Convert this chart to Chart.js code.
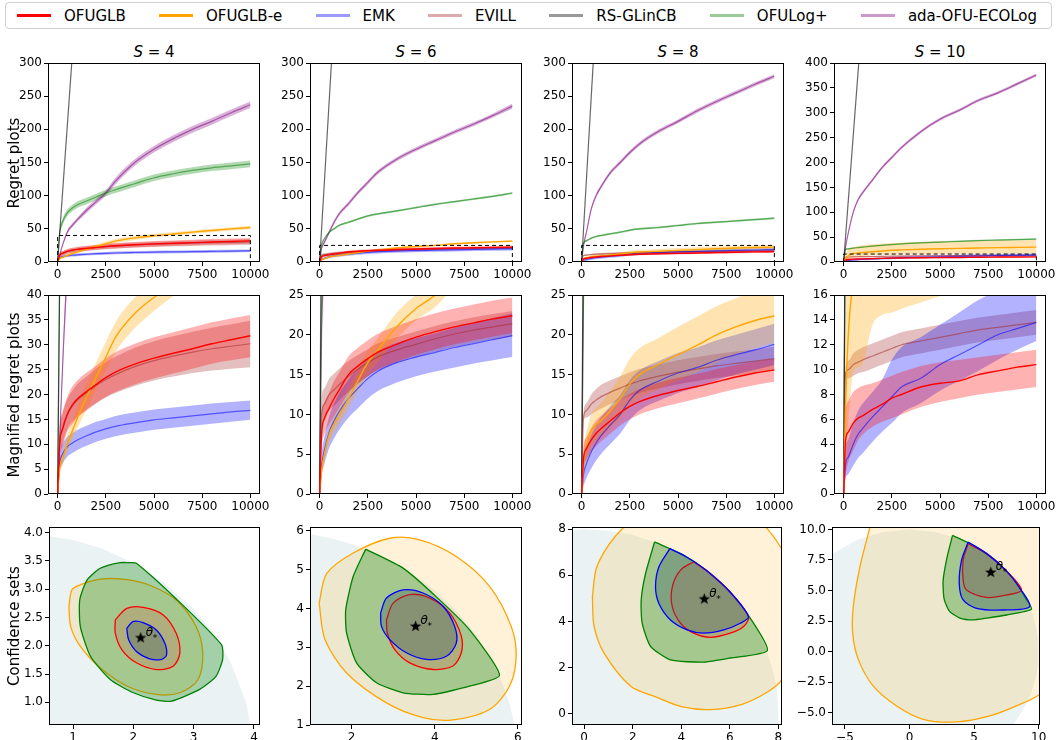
<!DOCTYPE html>
<html>
<head>
<meta charset="utf-8">
<script src="https://cdn.jsdelivr.net/npm/chart.js@4.4.1/dist/chart.umd.min.js"></script>
<style>
  body { margin: 0; width: 1058px; height: 740px; background: #fff; position: relative; overflow: hidden; font-family: "DejaVu Sans", sans-serif; color: #000; }
  canvas { position: absolute; }
  #legend { position: absolute; left: 5px; top: 2px; width: 1047px; height: 27px; box-sizing: border-box; border: 1px solid #d0d0d0; border-radius: 4px;
            display: flex; align-items: center; justify-content: space-between; padding: 0 14px 0 11px; font-size: 15px; }
  .item { display: flex; align-items: center; gap: 13px; }
  .sw { width: 34px; height: 2.5px; display: inline-block; }
  .ttl { position: absolute; font-size: 15px; width: 212px; text-align: center; }
  .ylab { position: absolute; font-size: 15px; white-space: nowrap; transform: translate(-50%, -50%) rotate(-90deg); }
</style>
</head>
<body>
<div id="legend"></div>
<script>
// ---------- regret data (x = round, y = cumulative regret) ----------
const steps = [0, 100, 250, 500, 750, 1000, 1500, 2000, 2500, 3000, 4000, 5000, 6000, 7000, 8000, 9000, 10000];
const rsSteps = [0, 10000];

// S = 4
const s4_ofuglb     = [0, 10, 13, 16, 17.8, 19, 20.6, 22, 23.4, 24.5, 26.1, 27.3, 28.3, 29.2, 30.2, 31.0, 31.8];
const s4_ofuglb_lo  = [0, 7, 9.5, 12.5, 14, 15.3, 16.8, 18.2, 19.5, 20.5, 22, 23.2, 24.2, 25.2, 26.2, 26.9, 27.5];
const s4_ofuglb_hi  = [0, 13, 16.5, 19.5, 21.5, 22.7, 24.4, 25.8, 27.3, 28.5, 30.2, 31.5, 32.5, 33.5, 34.5, 35.3, 36.0];
const s4_ofuglbe    = [0, 5, 7, 10, 12.5, 15, 19.5, 23.5, 27.5, 31.5, 36.3, 39.5, 42.3, 45, 47.5, 50, 52];
const s4_ofuglbe_lo = [0, 4, 5.8, 8.5, 10.8, 13, 17, 21, 24.8, 28.5, 33.3, 36.8, 39.8, 42.5, 45, 47.3, 49.5];
const s4_ofuglbe_hi = [0, 6, 8.3, 11.8, 14.5, 17.3, 22.2, 26.5, 30.5, 34.5, 39.5, 42.5, 45, 47.5, 50, 52.5, 54.5];
const s4_emk        = [0, 6, 8, 9.5, 10.2, 10.8, 11.7, 12.5, 13.1, 13.6, 14.3, 14.9, 15.3, 15.7, 16.1, 16.5, 16.8];
const s4_emk_lo     = [0, 4.2, 6, 7.5, 8.2, 8.8, 9.7, 10.5, 11.1, 11.6, 12.3, 12.9, 13.3, 13.7, 14.1, 14.5, 14.9];
const s4_emk_hi     = [0, 7.8, 10, 11.5, 12.2, 12.8, 13.7, 14.5, 15.1, 15.7, 16.4, 17.0, 17.4, 17.8, 18.2, 18.5, 18.8];
const s4_evill      = [0, 10, 13, 16, 17.6, 18.8, 20.3, 21.8, 23, 24, 25.6, 26.8, 27.7, 28.5, 29.2, 29.7, 30.2];
const s4_evill_lo   = [0, 7.5, 10, 13, 14.5, 15.5, 17, 18.3, 19.4, 20.3, 21.7, 22.8, 23.6, 24.3, 24.8, 25.2, 25.5];
const s4_evill_hi   = [0, 12.5, 16, 19, 20.7, 22, 23.6, 25.2, 26.5, 27.6, 29.4, 30.7, 31.7, 32.6, 33.4, 34.1, 34.8];
const s4_rs         = [0, 4100];
const s4_ofulog     = [0, 42, 60, 74, 81, 86, 92, 98, 104, 109, 118, 127, 133, 138, 142, 145, 148];
const s4_ofulog_lo  = [0, 38, 55, 69, 76, 81, 87, 93, 99, 104, 113, 122, 128, 133, 137, 140, 143];
const s4_ofulog_hi  = [0, 46, 65, 79, 86, 91, 97, 103, 109, 114, 123, 132, 138, 143, 147, 150, 153];
const s4_ada        = [0, 10, 25, 45, 55, 63, 78, 91, 104, 122, 150, 170, 186, 200, 212, 225, 237];
const s4_ada_lo     = [0, 9, 23, 42, 52, 60, 74, 87, 100, 117, 145, 165, 181, 195, 207, 220, 232];
const s4_ada_hi     = [0, 11, 27, 48, 58, 66, 82, 95, 108, 127, 155, 175, 191, 205, 217, 230, 242];

// S = 6
const s6_ofuglb     = [0, 7.5, 9.5, 10.8, 12, 13, 15, 16.1, 17, 17.8, 18.8, 19.7, 20.4, 21, 21.5, 22, 22.4];
const s6_ofuglb_lo  = [0, 5.5, 7.5, 8.8, 9.8, 10.8, 12.7, 13.9, 14.8, 15.6, 16.6, 17.5, 18.2, 18.8, 19.3, 19.8, 20.2];
const s6_ofuglb_hi  = [0, 9.5, 11.5, 12.8, 14.2, 15.2, 17.3, 18.4, 19.3, 20.1, 21.1, 22.0, 22.7, 23.3, 23.8, 24.3, 24.7];
const s6_ofuglbe    = [0, 3, 5, 7.5, 8.8, 9.8, 12, 14.3, 16.5, 18, 21, 23.3, 25, 27.5, 29, 30.3, 31.5];
const s6_ofuglbe_lo = [0, 2.4, 4.2, 6.5, 7.7, 8.6, 10.7, 12.9, 15, 16.5, 19.5, 21.8, 23.5, 26, 27.5, 28.8, 30];
const s6_ofuglbe_hi = [0, 3.6, 5.8, 8.5, 9.9, 11, 13.3, 15.7, 18, 19.5, 22.8, 25, 26.5, 29, 30.5, 31.8, 33];
const s6_emk        = [0, 3.5, 5.5, 7.8, 9.2, 10.3, 12, 13.3, 14.5, 15.4, 16.5, 17.2, 17.8, 18.4, 18.9, 19.4, 19.9];
const s6_emk_lo     = [0, 2.2, 3.8, 5.8, 7, 8, 9.6, 10.8, 12, 12.9, 14, 14.8, 15.4, 15.9, 16.4, 16.8, 17.2];
const s6_emk_hi     = [0, 4.8, 7.2, 9.8, 11.4, 12.6, 14.4, 15.8, 17, 17.9, 19, 19.6, 20.2, 20.9, 21.5, 22.1, 22.7];
const s6_evill      = [0, 10, 11.3, 12.5, 13.1, 13.7, 14.8, 15.7, 16.5, 17.2, 18.1, 18.8, 19.5, 20.1, 20.6, 21.0, 21.4];
const s6_evill_lo   = [0, 8, 9.3, 10.5, 11.1, 11.7, 12.9, 13.9, 14.8, 15.5, 16.5, 17.2, 17.9, 18.5, 19.0, 19.4, 19.8];
const s6_evill_hi   = [0, 12, 13.3, 14.5, 15.1, 15.7, 16.7, 17.5, 18.2, 18.9, 19.7, 20.4, 21.1, 21.7, 22.2, 22.6, 23.0];
const s6_rs         = [0, 4900];
const s6_ofulog     = [0, 25, 35, 45, 50, 55, 60, 65, 69.5, 72.5, 77, 82, 87, 91, 95, 99, 104];
const s6_ofulog_lo  = [0, 23.5, 33.5, 43.5, 48.5, 53.5, 58.5, 63.5, 68, 71, 75.5, 80.5, 85.5, 89.5, 93.5, 97.5, 102.5];
const s6_ofulog_hi  = [0, 26.5, 36.5, 46.5, 51.5, 56.5, 61.5, 66.5, 71, 74, 78.5, 83.5, 88.5, 92.5, 96.5, 100.5, 105.5];
const s6_ada        = [0, 20, 30, 45, 60, 72, 88, 105, 120, 135, 155, 170, 183, 196, 208, 221, 235];
const s6_ada_lo     = [0, 18, 27.5, 42, 57, 69, 85, 102, 117, 132, 152, 167, 180, 193, 205, 218, 231];
const s6_ada_hi     = [0, 22, 32.5, 48, 63, 75, 91, 108, 123, 138, 158, 173, 186, 199, 211, 224, 239];

// S = 8
const s8_ofuglb     = [0, 4.5, 5.7, 6.8, 7.6, 8.2, 9.2, 10.2, 11, 11.6, 12.4, 13, 13.5, 14.1, 14.7, 15.2, 15.6];
const s8_ofuglb_lo  = [0, 3.2, 4.3, 5.3, 6, 6.6, 7.6, 8.6, 9.4, 10, 10.8, 11.4, 12, 12.6, 13.2, 13.7, 14.1];
const s8_ofuglb_hi  = [0, 5.8, 7.1, 8.3, 9.2, 9.8, 10.8, 11.8, 12.6, 13.2, 14, 14.6, 15.1, 15.7, 16.2, 16.6, 17];
const s8_ofuglbe    = [0, 4, 6, 8, 8.7, 9.2, 10.5, 12, 13.8, 15, 16.3, 17.5, 18.7, 20, 21, 21.8, 22.4];
const s8_ofuglbe_lo = [0, 2.5, 4.2, 6, 6.7, 7.2, 8.3, 9.5, 11, 12, 13.2, 14.3, 15.3, 16.5, 17.5, 18.3, 19];
const s8_ofuglbe_hi = [0, 5.5, 7.8, 10, 10.8, 11.4, 13, 14.8, 17, 18.3, 19.6, 21, 22.3, 23.6, 24.6, 25.4, 26];
const s8_emk        = [0, 2.5, 3.8, 5.3, 6.4, 7.3, 8.7, 10, 11.8, 13, 14.2, 15.2, 15.9, 16.8, 17.5, 18.1, 18.8];
const s8_emk_lo     = [0, 1, 2, 3.2, 4.2, 5, 6.3, 7.6, 9.3, 10.5, 11.7, 12.7, 13.4, 14.3, 15, 15.6, 16.2];
const s8_emk_hi     = [0, 4, 5.6, 7.4, 8.6, 9.6, 11.1, 12.4, 14.3, 15.5, 16.7, 17.7, 18.4, 19.3, 20, 20.7, 21.4];
const s8_evill      = [0, 9.7, 10.5, 11.3, 11.8, 12.2, 12.8, 13.3, 13.8, 14.2, 14.8, 15.3, 15.7, 16.1, 16.4, 16.7, 17];
const s8_evill_lo   = [0, 9.2, 9.6, 10, 10.4, 10.7, 11.3, 11.8, 12.3, 12.7, 13.3, 13.8, 14.2, 14.6, 14.9, 15.2, 15.5];
const s8_evill_hi   = [0, 10.3, 11.4, 12.5, 13.2, 13.7, 14.3, 14.8, 15.3, 15.7, 16.3, 16.8, 17.2, 17.6, 17.9, 18.2, 18.5];
const s8_rs         = [0, 5000];
const s8_ofulog     = [0, 28, 32, 36, 38.5, 40, 42.5, 45, 48, 50, 52, 55, 58, 60, 62, 64, 66];
const s8_ofulog_lo  = [0, 26.5, 30.5, 34.5, 37, 38.5, 41, 43.5, 46.5, 48.5, 50.5, 53.5, 56.5, 58.5, 60.5, 62.5, 64.5];
const s8_ofulog_hi  = [0, 29.5, 33.5, 37.5, 40, 41.5, 44, 46.5, 49.5, 51.5, 53.5, 56.5, 59.5, 61.5, 63.5, 65.5, 67.5];
const s8_ada        = [0, 25, 45, 80, 100, 113, 135, 150, 165, 178, 197, 212, 228, 242, 255, 268, 280];
const s8_ada_lo     = [0, 23, 42, 77, 97, 110, 132, 147, 162, 175, 194, 209, 225, 239, 252, 265, 277];
const s8_ada_hi     = [0, 27, 48, 83, 103, 116, 138, 153, 168, 181, 200, 215, 231, 245, 258, 271, 283];

// S = 10
const s10_ofuglb     = [0, 4.3, 5, 5.7, 6.1, 6.3, 6.8, 7.2, 7.7, 8, 8.6, 8.9, 9.1, 9.6, 9.9, 10.2, 10.4];
const s10_ofuglb_lo  = [0, 1.5, 2.6, 3.5, 4.3, 4.8, 5.4, 5.8, 6.1, 6.4, 7, 7.4, 7.7, 8, 8.2, 8.4, 8.6];
const s10_ofuglb_hi  = [0, 6.5, 7.5, 8.2, 8.5, 8.7, 8.9, 9.2, 9.5, 9.8, 10.3, 10.6, 10.8, 11, 11.2, 11.4, 11.6];
const s10_ofuglbe    = [0, 7, 13, 17, 18, 19, 20.5, 22, 23.5, 24.3, 25.5, 26.5, 27.3, 28, 28.8, 29.4, 30];
const s10_ofuglbe_lo = [0, 3, 6, 9.8, 10.2, 10.5, 13.6, 14.4, 14.6, 14.9, 15.4, 15.9, 16.4, 16.8, 17.1, 17.3, 17.5];
const s10_ofuglbe_hi = [0, 15, 25, 30, 32, 34, 35.5, 36.8, 38, 38.8, 40, 41, 41.8, 42.5, 43.2, 43.6, 44];
const s10_emk        = [0, 2.4, 3, 4, 4.8, 5.3, 6.2, 7, 7.8, 8.6, 9.3, 10.4, 11.2, 12, 12.8, 13.3, 13.8];
const s10_emk_lo     = [0, 1.2, 1.6, 2.3, 2.9, 3.3, 4.2, 5, 5.7, 6.5, 7.3, 8.3, 9.1, 9.9, 10.8, 11.6, 12.3];
const s10_emk_hi     = [0, 3.6, 4.4, 5.7, 6.7, 7.3, 8.2, 9.2, 10.8, 11.8, 12.6, 13.6, 14.6, 15.6, 16.3, 16.8, 17.2];
const s10_evill      = [0, 9.7, 10, 10.4, 10.6, 10.8, 11.1, 11.4, 11.7, 12, 12.3, 12.6, 12.9, 13.2, 13.4, 13.6, 13.8];
const s10_evill_lo   = [0, 9.2, 9.3, 9.5, 9.7, 9.8, 10.1, 10.4, 10.7, 11, 11.3, 11.6, 11.9, 12.2, 12.4, 12.6, 12.8];
const s10_evill_hi   = [0, 10.2, 10.7, 11.3, 11.6, 11.8, 12.1, 12.4, 12.7, 13, 13.3, 13.6, 13.9, 14.2, 14.4, 14.6, 14.8];
const s10_rs         = [0, 5100];
const s10_ofulog     = [0, 25, 26.5, 28, 29, 30, 32, 33.5, 35, 36.5, 38.5, 40, 41.5, 43, 44, 45, 46];
const s10_ofulog_lo  = [0, 23.5, 25, 26.5, 27.5, 28.5, 30.5, 32, 33.5, 35, 37, 38.5, 40, 41.5, 42.5, 43.5, 44.5];
const s10_ofulog_hi  = [0, 26.5, 28, 29.5, 30.5, 31.5, 33.5, 35, 36.5, 38, 40, 41.5, 43, 44.5, 45.5, 46.5, 47.5];
const s10_ada        = [0, 30, 60, 100, 125, 140, 165, 190, 210, 230, 262, 287, 305, 325, 340, 358, 376];
const s10_ada_lo     = [0, 28, 57, 97, 122, 137, 162, 187, 207, 227, 259, 284, 302, 322, 337, 355, 373];
const s10_ada_hi     = [0, 32, 63, 103, 128, 143, 168, 193, 213, 233, 265, 290, 308, 328, 343, 361, 379];

// tick labels
const regretXTicks = [0, 2500, 5000, 7500, 10000];
const yTicks300 = [0, 50, 100, 150, 200, 250, 300];
const yTicks400 = [0, 50, 100, 150, 200, 250, 300, 350, 400];
const zoomTicks40 = [0, 5, 10, 15, 20, 25, 30, 35, 40];
const zoomTicks25 = [0, 5, 10, 15, 20, 25];
const zoomTicks16 = [0, 2, 4, 6, 8, 10, 12, 14, 16];

// ---------- confidence set outlines (theta_1, theta_2) ----------
const cs4_ball   = [[0.3, 3.99], [1, 3.87], [1.5, 3.71], [2, 3.46], [2.5, 3.12], [3, 2.65], [3.3, 2.26], [3.6, 1.74], [3.87, 1], [3.99, 0.3], [0, 0], [0.3, 3.99]];
const cs4_orange = [[0.93, 2.69], [0.98, 2.99], [1.12, 3.08], [1.45, 3.18], [1.89, 3.17], [2.27, 3.07], [2.71, 2.81], [3.04, 2.34], [3.15, 1.87], [3.07, 1.40], [2.77, 1.17], [2.38, 1.14], [1.89, 1.29], [1.45, 1.61], [1.12, 1.99], [0.96, 2.34], [0.93, 2.69]];
const cs4_green  = [[1.95, 3.47], [2.05, 3.46], [2.72, 2.82], [3.46, 2.02], [3.48, 1.76], [3.37, 1.46], [3.1, 1.23], [2.63, 1.02], [2.38, 1.04], [2.0, 1.17], [1.62, 1.40], [1.29, 1.81], [1.12, 2.34], [1.11, 2.81], [1.23, 3.16], [1.45, 3.37], [1.78, 3.47], [1.95, 3.47]];
const cs4_red    = [[1.70, 2.46], [1.89, 2.66], [2.16, 2.68], [2.49, 2.55], [2.71, 2.22], [2.77, 1.87], [2.66, 1.64], [2.38, 1.58], [2.05, 1.70], [1.81, 1.93], [1.70, 2.22], [1.70, 2.46]];
const cs4_blue   = [[1.89, 2.31], [2.0, 2.43], [2.16, 2.41], [2.38, 2.28], [2.52, 2.05], [2.55, 1.84], [2.47, 1.76], [2.27, 1.77], [2.05, 1.90], [1.92, 2.11], [1.89, 2.31]];
const cs4_theta  = [2.12, 2.14];

const cs6_ball   = [[0.5, 5.98], [1, 5.92], [1.5, 5.81], [2, 5.66], [2.5, 5.45], [3, 5.2], [3.5, 4.87], [4, 4.47], [4.5, 3.97], [5, 3.32], [5.3, 2.81], [5.6, 2.15], [5.8, 1.54], [5.92, 1], [5.98, 0.5], [0, 0], [0.5, 5.98]];
const cs6_orange = [[1.22, 4.14], [1.4, 4.9], [2.04, 5.43], [2.92, 5.81], [3.64, 5.77], [4.52, 5.34], [5.32, 4.57], [5.84, 3.54], [5.96, 2.77], [5.8, 2.0], [5.32, 1.40], [4.44, 1.13], [3.72, 1.19], [2.84, 1.57], [1.88, 2.34], [1.36, 3.2], [1.22, 4.14]];
const cs6_green  = [[2.34, 5.53], [3.24, 5.04], [4.04, 4.3], [4.84, 3.45], [5.56, 2.28], [4.84, 2.0], [3.96, 1.79], [3.24, 1.83], [2.6, 2.09], [2.12, 2.60], [1.88, 3.37], [1.86, 3.97], [2.04, 4.83], [2.34, 5.53]];
const cs6_red    = [[2.84, 3.71], [3.0, 4.14], [3.4, 4.36], [3.88, 4.27], [4.36, 3.89], [4.64, 3.29], [4.64, 2.86], [4.44, 2.52], [3.96, 2.43], [3.4, 2.6], [3.04, 2.94], [2.86, 3.37], [2.84, 3.71]];
const cs6_blue   = [[2.70, 3.89], [2.84, 4.27], [3.24, 4.48], [3.72, 4.40], [4.2, 4.06], [4.48, 3.54], [4.52, 3.11], [4.28, 2.77], [3.8, 2.69], [3.32, 2.86], [2.92, 3.2], [2.72, 3.54], [2.70, 3.89]];
const cs6_theta  = [3.54, 3.54];

const cs8_ball   = [[-1, 7.94], [0, 8], [1, 7.94], [2, 7.75], [3, 7.42], [4, 6.93], [5, 6.24], [6, 5.29], [6.5, 4.66], [7, 3.87], [7.5, 2.78], [7.8, 1.78], [7.94, 1], [8, 0], [7.94, -1], [-1, -1], [-1, 7.94]];
const cs8_orange = [[0.34, 5.07], [0.5, 6.3], [1.0, 7.3], [1.64, 8.1], [2.5, 8.8], [4, 9.4], [5.5, 9.4], [7, 8.6], [8.14, 7.15], [8.8, 5.5], [8.9, 4.0], [8.14, 1.47], [7.5, 0.9], [6.5, 0.4], [5.2, 0.17], [4, 0.3], [3, 0.7], [1.92, 1.18], [0.82, 2.62], [0.41, 3.78], [0.34, 5.07]];
const cs8_green  = [[2.9, 7.45], [4, 6.93], [5, 6.24], [6, 5.29], [6.8, 4.21], [7.55, 2.74], [6.02, 2.41], [4.92, 2.23], [3.56, 2.33], [2.74, 2.91], [2.39, 3.92], [2.35, 4.93], [2.53, 6.08], [2.9, 7.45]];
const cs8_red    = [[4.51, 6.59], [3.97, 6.23], [3.63, 5.5], [3.63, 4.64], [3.97, 3.92], [4.51, 3.49], [5.2, 3.31], [6.02, 3.49], [6.57, 3.78], [6.77, 4.21], [6, 5.29], [5.2, 6.08], [4.51, 6.59]];
const cs8_blue   = [[3.53, 7.16], [3.08, 6.37], [2.94, 5.5], [3.08, 4.78], [3.56, 4.06], [4.24, 3.63], [4.92, 3.49], [5.75, 3.63], [6.43, 3.92], [6.77, 4.21], [6, 5.29], [5, 6.24], [4.2, 6.81], [3.53, 7.16]];
const cs8_theta  = [4.95, 4.97];

const cs10_ball   = [[-7, 7.14], [-6, 8], [-4, 9.17], [-2, 9.8], [0, 10], [2, 9.8], [4, 9.17], [5, 8.66], [6, 8], [7, 7.14], [8, 6], [8.66, 5], [9.17, 4], [9.54, 3], [9.8, 2], [9.95, 1], [10, 0], [9.95, -1], [9.8, -2], [9.54, -3], [9.17, -4], [8.66, -5], [8, -6], [7.14, -7], [-7, -7], [-7, 7.14]];
const cs10_orange = [[-3.06, 10.19], [-3.84, 6.94], [-4.35, 3.69], [-4.4, 1.52], [-3.96, -0.65], [-2.8, -2.82], [-1.0, -4.44], [1.06, -5.53], [3.64, -5.75], [6.22, -5.26], [8.28, -4.44], [10.08, -3.5], [11.5, -2], [13, 2], [13, 7], [11, 11], [7, 13.5], [2, 13.5], [-1.5, 12.5], [-3.06, 10.19]];
const cs10_green  = [[3.33, 9.51], [5, 8.66], [6.5, 7.6], [8, 6], [9, 4.36], [9.44, 3.47], [7.5, 3.0], [6, 2.75], [4.9, 2.6], [3.9, 2.75], [3.1, 3.3], [2.68, 4.3], [2.6, 5.8], [2.9, 7.7], [3.33, 9.51]];
const cs10_red    = [[4.54, 8.83], [4.15, 7.48], [4.15, 5.85], [4.41, 5.04], [5.96, 4.44], [7.51, 4.63], [8.67, 5.04], [7.5, 6.61], [6, 8.0], [4.54, 8.83]];
const cs10_blue   = [[4.54, 8.97], [4.03, 7.48], [3.85, 5.58], [4.15, 4.23], [5.19, 3.55], [7.25, 3.41], [9.3, 3.69], [8.5, 5.27], [7.5, 6.61], [6, 8.0], [4.54, 8.97]];
const cs10_theta  = [6.29, 6.48];

const cs4_xTicks = [1, 2, 3, 4];
const cs4_yTicks = [1.0, 1.5, 2.0, 2.5, 3.0, 3.5, 4.0];
const cs6_xTicks = [2, 4, 6];
const cs6_yTicks = [1, 2, 3, 4, 5, 6];
const cs8_xTicks = [0, 2, 4, 6, 8];
const cs8_yTicks = [0, 2, 4, 6, 8];
const cs10_xTicks = [-5, 0, 5, 10];
const cs10_yTicks = [-5, -2.5, 0, 2.5, 5, 7.5, 10];

// ---------- styling ----------
const algoNames = ['OFUGLB', 'OFUGLB-e', 'EMK', 'EVILL', 'RS-GLinCB', 'OFULog+', 'ada-OFU-ECOLog'];
const lineColors = ['#ff0000', '#ffa500', 'rgba(0,0,255,0.55)', 'rgba(165,42,42,0.55)', 'rgba(0,0,0,0.6)', 'rgba(0,128,0,0.55)', 'rgba(128,0,128,0.55)'];
const legendColors = ['#ff0000', '#ffa500', '#9a9aff', '#dcaaaa', '#999999', '#99cc99', '#cc99cc'];
const bandColors = ['rgba(255,0,0,0.3)', 'rgba(255,165,0,0.3)', 'rgba(0,0,255,0.3)', 'rgba(165,42,42,0.3)', null, 'rgba(0,128,0,0.3)', 'rgba(128,0,128,0.3)'];

Chart.defaults.font.family = "'DejaVu Sans', sans-serif";
Chart.defaults.font.size = 12;
Chart.defaults.color = '#000';

// legend
const legend = document.getElementById('legend');
algoNames.forEach((n, i) => {
    const it = document.createElement('div');
    it.className = 'item';
    it.innerHTML = '<span class="sw" style="background:' + legendColors[i] + '"></span><span>' + n + '</span>';
    legend.appendChild(it);
});

const runs = [
    { s: 4, top: 300, topTicks: yTicks300, zoom: 40, zoomTicks: zoomTicks40,
      mean: [s4_ofuglb, s4_ofuglbe, s4_emk, s4_evill, s4_rs, s4_ofulog, s4_ada],
      lo: [s4_ofuglb_lo, s4_ofuglbe_lo, s4_emk_lo, s4_evill_lo, null, s4_ofulog_lo, s4_ada_lo],
      hi: [s4_ofuglb_hi, s4_ofuglbe_hi, s4_emk_hi, s4_evill_hi, null, s4_ofulog_hi, s4_ada_hi] },
    { s: 6, top: 300, topTicks: yTicks300, zoom: 25, zoomTicks: zoomTicks25,
      mean: [s6_ofuglb, s6_ofuglbe, s6_emk, s6_evill, s6_rs, s6_ofulog, s6_ada],
      lo: [s6_ofuglb_lo, s6_ofuglbe_lo, s6_emk_lo, s6_evill_lo, null, s6_ofulog_lo, s6_ada_lo],
      hi: [s6_ofuglb_hi, s6_ofuglbe_hi, s6_emk_hi, s6_evill_hi, null, s6_ofulog_hi, s6_ada_hi] },
    { s: 8, top: 300, topTicks: yTicks300, zoom: 25, zoomTicks: zoomTicks25,
      mean: [s8_ofuglb, s8_ofuglbe, s8_emk, s8_evill, s8_rs, s8_ofulog, s8_ada],
      lo: [s8_ofuglb_lo, s8_ofuglbe_lo, s8_emk_lo, s8_evill_lo, null, s8_ofulog_lo, s8_ada_lo],
      hi: [s8_ofuglb_hi, s8_ofuglbe_hi, s8_emk_hi, s8_evill_hi, null, s8_ofulog_hi, s8_ada_hi] },
    { s: 10, top: 400, topTicks: yTicks400, zoom: 16, zoomTicks: zoomTicks16,
      mean: [s10_ofuglb, s10_ofuglbe, s10_emk, s10_evill, s10_rs, s10_ofulog, s10_ada],
      lo: [s10_ofuglb_lo, s10_ofuglbe_lo, s10_emk_lo, s10_evill_lo, null, s10_ofulog_lo, s10_ada_lo],
      hi: [s10_ofuglb_hi, s10_ofuglbe_hi, s10_emk_hi, s10_evill_hi, null, s10_ofulog_hi, s10_ada_hi] }
];

const confSets = [
    { x: [0.6, 4.1], y: [0.6, 4.1], xt: cs4_xTicks, yt: cs4_yTicks, yfmt: v => v.toFixed(1),
      ball: cs4_ball, orange: cs4_orange, green: cs4_green, red: cs4_red, blue: cs4_blue, theta: cs4_theta },
    { x: [1, 6.1], y: [1, 6.1], xt: cs6_xTicks, yt: cs6_yTicks, yfmt: v => String(v),
      ball: cs6_ball, orange: cs6_orange, green: cs6_green, red: cs6_red, blue: cs6_blue, theta: cs6_theta },
    { x: [-0.5, 8.15], y: [-0.5, 8.1], xt: cs8_xTicks, yt: cs8_yTicks, yfmt: v => String(v),
      ball: cs8_ball, orange: cs8_orange, green: cs8_green, red: cs8_red, blue: cs8_blue, theta: cs8_theta },
    { x: [-6, 10.1], y: [-6, 10.2], xt: cs10_xTicks, yt: cs10_yTicks, yfmt: v => v.toFixed(1).replace('-', '\u2212'),
      ball: cs10_ball, orange: cs10_orange, green: cs10_green, red: cs10_red, blue: cs10_blue, theta: cs10_theta }
];

// ---------- layout ----------
const colsTop = [[48, 260], [310, 522], [572, 784], [834, 1046]];
const colsConf = [[49, 260], [310, 522], [572, 782], [832, 1040]];
const rows = [[63, 262], [295, 494], [527, 725]];
const PAD_L = 48, PAD_T = 10, PAD_R = 22, PAD_B = 26;

function makeCanvas(L, T, R, B) {
    const c = document.createElement('canvas');
    c.width = R - L + PAD_L + PAD_R;
    c.height = B - T + PAD_T + PAD_B;
    c.style.left = (L - PAD_L) + 'px';
    c.style.top = (T - PAD_T) + 'px';
    document.body.appendChild(c);
    return c;
}

function addText(cls, html, left, top) {
    const d = document.createElement('div');
    d.className = cls;
    d.innerHTML = html;
    d.style.left = left + 'px';
    d.style.top = top + 'px';
    document.body.appendChild(d);
}

const framePlugin = {
    id: 'frame',
    afterDraw(chart) {
        const { ctx, chartArea: a } = chart;
        ctx.save();
        ctx.strokeStyle = '#000';
        ctx.lineWidth = 1;
        ctx.strokeRect(Math.round(a.left) + 0.5, Math.round(a.top) + 0.5, Math.round(a.right - a.left) - 1, Math.round(a.bottom - a.top) - 1);
        ctx.restore();
    }
};

const thetaPlugin = {
    id: 'thetaLabel',
    afterDatasetsDraw(chart, args, opts) {
        if (!opts || opts.x === undefined) return;
        const px = chart.scales.x.getPixelForValue(opts.x);
        const py = chart.scales.y.getPixelForValue(opts.y);
        const ctx = chart.ctx;
        ctx.save();
        ctx.fillStyle = '#000';
        ctx.font = "italic 12px 'DejaVu Sans'";
        ctx.fillText('\u03b8', px + 5, py - 2);
        ctx.font = "9px 'DejaVu Sans'";
        ctx.fillText('*', px + 12, py + 3);
        ctx.restore();
    }
};

function axis(min, max, ticks, fmt, horizontal) {
    return {
        type: 'linear', min, max,
        afterBuildTicks: ax => { ax.ticks = ticks.map(v => ({ value: v })); },
        afterFit: ax => { if (horizontal) ax.height = PAD_B; else ax.width = PAD_L; },
        ticks: { color: '#000', padding: 2, maxRotation: 0, autoSkip: false, callback: fmt },
        grid: { drawOnChartArea: false, drawTicks: true, tickLength: 4, color: '#000' },
        border: { display: false }
    };
}

function pts(xs, ys) { return ys.map((y, i) => ({ x: xs[i], y })); }

function regretDatasets(run, withBox) {
    const ds = [];
    run.mean.forEach((m, k) => {
        const xs = k === 4 ? rsSteps : steps;
        if (run.lo[k]) {
            ds.push({ data: pts(xs, run.lo[k]), borderColor: 'rgba(0,0,0,0)', borderWidth: 0, pointRadius: 0, fill: false, order: 3, cubicInterpolationMode: 'monotone' });
            ds.push({ data: pts(xs, run.hi[k]), borderColor: 'rgba(0,0,0,0)', borderWidth: 0, pointRadius: 0, fill: '-1', backgroundColor: bandColors[k], order: 3, cubicInterpolationMode: 'monotone' });
        }
        ds.push({ data: pts(xs, m), borderColor: lineColors[k], borderWidth: k < 2 ? 1.4 : 1.2, pointRadius: 0, fill: false, order: 2, cubicInterpolationMode: 'monotone' });
    });
    if (withBox) {
        ds.push({ data: [{ x: 0, y: 0 }, { x: 0, y: run.zoom }, { x: 10000, y: run.zoom }, { x: 10000, y: 0 }],
                  borderColor: '#000', borderWidth: 1, borderDash: [4, 3], pointRadius: 0, fill: false, tension: 0, order: 1 });
    }
    return ds;
}

const intFmt = v => String(v);

runs.forEach((run, c) => {
    const [L, R] = colsTop[c];
    addText('ttl', '<i>S</i> = ' + run.s, L, 43);
    // full regret
    new Chart(makeCanvas(L, rows[0][0], R, rows[0][1]), {
        type: 'line',
        data: { datasets: regretDatasets(run, true) },
        options: {
            responsive: false, animation: false, devicePixelRatio: 1,
            layout: { padding: { left: 0, top: PAD_T, right: PAD_R, bottom: 0 } },
            plugins: { legend: { display: false }, tooltip: { enabled: false } },
            scales: { x: axis(-500, 10500, regretXTicks, intFmt, true), y: axis(0, run.top, run.topTicks, intFmt, false) }
        },
        plugins: [framePlugin]
    });
    // magnified regret
    new Chart(makeCanvas(L, rows[1][0], R, rows[1][1]), {
        type: 'line',
        data: { datasets: regretDatasets(run, false) },
        options: {
            responsive: false, animation: false, devicePixelRatio: 1,
            layout: { padding: { left: 0, top: PAD_T, right: PAD_R, bottom: 0 } },
            plugins: { legend: { display: false }, tooltip: { enabled: false } },
            scales: { x: axis(-500, 10500, regretXTicks, intFmt, true), y: axis(0, run.zoom, run.zoomTicks, intFmt, false) }
        },
        plugins: [framePlugin]
    });
});

// filled star marker
const starImg = document.createElement('canvas');
starImg.width = 13; starImg.height = 13;
(function () {
    const g = starImg.getContext('2d');
    g.fillStyle = '#000';
    g.beginPath();
    for (let i = 0; i < 10; i++) {
        const r = i % 2 === 0 ? 6 : 2.5;
        const a = -Math.PI / 2 + i * Math.PI / 5;
        const px = 6.5 + r * Math.cos(a), py = 6.5 + r * Math.sin(a);
        if (i === 0) g.moveTo(px, py); else g.lineTo(px, py);
    }
    g.closePath();
    g.fill();
})();

function shape(points, border, fillColor, order, tension) {
    return { data: points.map(p => ({ x: p[0], y: p[1] })), borderColor: border || 'rgba(0,0,0,0)', borderWidth: border ? 1.3 : 0,
             backgroundColor: fillColor, fill: 'shape', pointRadius: 0, tension, order };
}

confSets.forEach((cs, c) => {
    const [L, R] = colsConf[c];
    new Chart(makeCanvas(L, rows[2][0], R, rows[2][1]), {
        type: 'line',
        data: { datasets: [
            { data: [{ x: cs.theta[0], y: cs.theta[1] }], pointStyle: starImg, pointRadius: 6, showLine: false, order: 0 },
            shape(cs.blue, '#0000ff', 'rgba(40,80,100,0.3)', 1, 0.3),
            shape(cs.red, '#ff0000', 'rgba(255,0,0,0.13)', 2, 0.3),
            shape(cs.green, '#008000', 'rgba(0,128,0,0.3)', 3, 0.2),
            shape(cs.orange, '#ffa500', 'rgba(255,165,0,0.15)', 4, 0.3),
            shape(cs.ball, null, 'rgba(95,158,160,0.13)', 5, 0)
        ] },
        options: {
            responsive: false, animation: false, devicePixelRatio: 1,
            layout: { padding: { left: 0, top: PAD_T, right: PAD_R, bottom: 0 } },
            plugins: { legend: { display: false }, tooltip: { enabled: false }, thetaLabel: { x: cs.theta[0], y: cs.theta[1] } },
            scales: {
                x: axis(cs.x[0], cs.x[1], cs.xt, v => String(v).replace('-', '\u2212'), true),
                y: axis(cs.y[0], cs.y[1], cs.yt, cs.yfmt, false)
            }
        },
        plugins: [framePlugin, thetaPlugin]
    });
});

// row labels
addText('ylab', 'Regret plots', 14, (rows[0][0] + rows[0][1]) / 2);
addText('ylab', 'Magnified regret plots', 14, (rows[1][0] + rows[1][1]) / 2);
addText('ylab', 'Confidence sets', 14, (rows[2][0] + rows[2][1]) / 2);
</script>
</body>
</html>
